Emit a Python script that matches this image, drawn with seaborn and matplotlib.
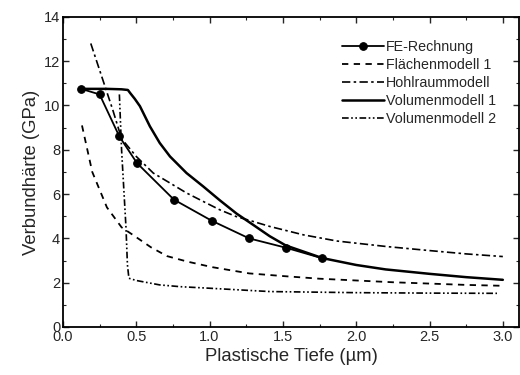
import numpy as np
import pandas as pd
import matplotlib
matplotlib.use("Agg")
import matplotlib.pyplot as plt
from matplotlib.ticker import MultipleLocator
from matplotlib import font_manager
import seaborn as sns

# --- data ---
fe_x = [0.125, 0.25, 0.385, 0.505, 0.757, 1.014, 1.27, 1.52, 1.77]
fe_y = [10.75, 10.5, 8.6, 7.4, 5.75, 4.8, 4.0, 3.58, 3.1]

flaeche_x = [0.13, 0.2, 0.3, 0.4, 0.49, 0.6, 0.71, 0.85, 1.02, 1.27, 1.5, 1.75, 2.0, 2.25, 2.5, 2.75, 3.0]
flaeche_y = [9.1, 7.0, 5.4, 4.5, 4.1, 3.6, 3.2, 2.95, 2.7, 2.42, 2.3, 2.18, 2.1, 2.02, 1.96, 1.9, 1.86]

hohl_x = [0.19, 0.27, 0.34, 0.40, 0.50, 0.616, 0.73, 0.843, 0.956, 1.07, 1.18, 1.30, 1.41, 1.64, 1.87, 2.21, 2.5, 2.75, 3.0]
hohl_y = [12.8, 11.2, 9.8, 8.5, 7.7, 6.95, 6.5, 6.05, 5.67, 5.29, 4.99, 4.76, 4.54, 4.16, 3.88, 3.63, 3.45, 3.3, 3.18]

vol1_x = [0.125, 0.2, 0.3, 0.4, 0.443, 0.46, 0.49, 0.525, 0.593, 0.66, 0.73, 0.843, 0.956, 1.07, 1.184, 1.30, 1.41, 1.52, 1.77, 2.0, 2.2, 2.5, 2.75, 3.0]
vol1_y = [10.75, 10.75, 10.75, 10.73, 10.7, 10.55, 10.3, 9.97, 9.06, 8.31, 7.7, 6.95, 6.35, 5.72, 5.12, 4.6, 4.1, 3.68, 3.11, 2.8, 2.6, 2.4, 2.25, 2.13]

vol2_x = [0.385, 0.40, 0.43, 0.44, 0.45, 0.5, 0.66, 0.8, 1.0, 1.41, 2.0, 2.5, 2.96]
vol2_y = [10.5, 8.0, 4.5, 2.8, 2.2, 2.1, 1.9, 1.82, 1.75, 1.6, 1.55, 1.53, 1.52]

sns.set_style("ticks")
names = {f.name for f in font_manager.fontManager.ttflist}
fam = ['Liberation Sans Narrow'] if 'Liberation Sans Narrow' in names else []
narrow = bool(fam)
plt.rcParams['font.family'] = fam + ['Liberation Sans', 'DejaVu Sans']

fig = plt.figure(figsize=(5.2, 3.75), dpi=100)
ax = fig.add_axes([0.121, 0.128, 0.877, 0.827])

def df(x, y):
    return pd.DataFrame({"x": x, "y": y})

sns.lineplot(data=df(fe_x, fe_y), x="x", y="y", ax=ax, color="black", lw=1.3,
             marker="o", markersize=5.5, markeredgecolor="black", label="FE-Rechnung")
sns.lineplot(data=df(flaeche_x, flaeche_y), x="x", y="y", ax=ax, color="black", lw=1.3,
             label="Flächenmodell 1", linestyle=(0, (3.5, 3)))
sns.lineplot(data=df(hohl_x, hohl_y), x="x", y="y", ax=ax, color="black", lw=1.2,
             label="Hohlraummodell", linestyle=(0, (5, 2, 1.5, 2)))
sns.lineplot(data=df(vol1_x, vol1_y), x="x", y="y", ax=ax, color="black", lw=1.8,
             label="Volumenmodell 1")
sns.lineplot(data=df(vol2_x, vol2_y), x="x", y="y", ax=ax, color="black", lw=1.2,
             label="Volumenmodell 2", linestyle=(0, (4, 1.5, 1, 1.5, 1, 1.5)))

ax.set_xlim(0, 3.11)
ax.set_ylim(0, 14)
ax.xaxis.set_major_locator(MultipleLocator(0.5))
ax.xaxis.set_minor_locator(MultipleLocator(0.25))
ax.yaxis.set_major_locator(MultipleLocator(2))
ax.yaxis.set_minor_locator(MultipleLocator(1))
ax.set_xticks([0, 0.5, 1.0, 1.5, 2.0, 2.5, 3.0])
ax.set_xticklabels(["0.0", "0.5", "1.0", "1.5", "2.0", "2.5", "3.0"])
tick_fs = 12 if narrow else 10.5
ax.tick_params(which="both", direction="in", top=True, right=True, labelsize=tick_fs, pad=2)
ax.tick_params(which="major", length=4, width=1)
ax.tick_params(which="minor", length=2, width=0.8)
for s in ax.spines.values():
    s.set_linewidth(1.3)
    s.set_color("black")

lab_fs = 15 if narrow else 13.3
ax.set_xlabel("Plastische Tiefe (µm)", fontsize=lab_fs, labelpad=3)
ax.set_ylabel("Verbundhärte (GPa)", fontsize=lab_fs, labelpad=3)

leg_fs = 12 if narrow else 10.3
ax.legend(loc="upper left", bbox_to_anchor=(0.612, 0.925), frameon=False,
          fontsize=leg_fs, handlelength=2.95, handletextpad=0.15, labelspacing=0.27,
          borderpad=0, borderaxespad=0)

fig.savefig("out.png", dpi=100)
